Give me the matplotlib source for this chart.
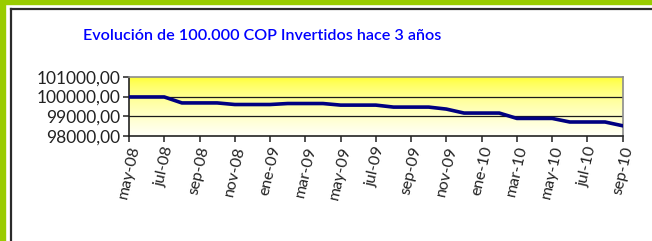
import numpy as np
import matplotlib.pyplot as plt
from matplotlib.lines import Line2D
from matplotlib.patches import Rectangle

# monthly values, may-08 .. sep-10
meses = ['may-08', 'jun-08', 'jul-08', 'ago-08', 'sep-08', 'oct-08', 'nov-08', 'dic-08',
         'ene-09', 'feb-09', 'mar-09', 'abr-09', 'may-09', 'jun-09', 'jul-09', 'ago-09',
         'sep-09', 'oct-09', 'nov-09', 'dic-09', 'ene-10', 'feb-10', 'mar-10', 'abr-10',
         'may-10', 'jun-10', 'jul-10', 'ago-10', 'sep-10']
valores = [99980, 99980, 99980, 99680, 99680, 99680, 99600, 99600,
           99600, 99650, 99650, 99650, 99570, 99570, 99570, 99470,
           99470, 99470, 99370, 99170, 99170, 99170, 98900, 98900,
           98900, 98720, 98720, 98720, 98530]
y_ticks = [98000, 99000, 100000, 101000]
y_labels = ['98000,00', '99000,00', '100000,00', '101000,00']
titulo = 'Evolución de 100.000 COP Invertidos hace 3 años'

plt.rcParams['font.family'] = ['Lato', 'DejaVu Sans']

fig = plt.figure(figsize=(6.52, 2.41), dpi=100)
W, H = 652, 241

# frame decorations (green band + dark border)
fig.patches.append(Rectangle((0, 1 - 4 / H), 1, 4 / H, transform=fig.transFigure,
                             color='#99cc00', zorder=0))
fig.patches.append(Rectangle((0, 0), 2 / W, 1, transform=fig.transFigure,
                             color='#99cc00', zorder=0))
fig.patches.append(Rectangle((3 / W, 0), 2 / W, 1, transform=fig.transFigure,
                             color='#99cc00', zorder=0))
fig.lines.append(Line2D([10.5 / W, 1], [1 - 9 / H, 1 - 9 / H], transform=fig.transFigure,
                        color='#2b2b2b', lw=1.6))
fig.lines.append(Line2D([11 / W, 11 / W], [0, 1 - 9 / H], transform=fig.transFigure,
                        color='#2b2b2b', lw=1.6))

ax = fig.add_axes([129 / W, 1 - 136.3 / H, (622.7 - 129) / W, (136.3 - 76.7) / H])

x = np.arange(len(valores))

# yellow gradient background
grad = np.linspace(0, 1, 256).reshape(-1, 1)
top = np.array([1.0, 1.0, 0.12])
bot = np.array([1.0, 1.0, 0.97])
img = top + (bot - top) * grad[..., None] ** 0.6
ax.imshow(img, extent=[0, len(valores) - 1, 98000, 101000], aspect='auto',
          origin='upper', zorder=0)

for yv in [99000, 100000]:
    ax.axhline(yv, color='#1a1a1a', lw=0.9, zorder=1)

ax.plot(x, valores, color='#000080', lw=2.6, zorder=3, solid_joinstyle='round')

ax.set_xlim(0, len(valores) - 1)
ax.set_ylim(98000, 101000)
ax.set_yticks(y_ticks)
ax.set_yticklabels(y_labels, fontsize=12.5, color='#222222')
ax.set_xticks(x[::2])
ax.set_xticklabels(meses[::2], rotation=77, fontsize=11.5, color='#222222',
                   ha='center', va='top')

for s in ['top', 'right']:
    ax.spines[s].set_color('#8c8c8c')
    ax.spines[s].set_linewidth(1.2)
for s in ['left', 'bottom']:
    ax.spines[s].set_color('#222222')
    ax.spines[s].set_linewidth(1.2)
ax.tick_params(axis='both', direction='out', length=4, width=1.1, color='#222222', pad=2)

fig.text(262 / W, 1 - 36 / H, titulo, color='#0000ff', fontsize=11.6,
         fontweight='semibold', ha='center', va='center')

fig.savefig('out.png', dpi=100)
